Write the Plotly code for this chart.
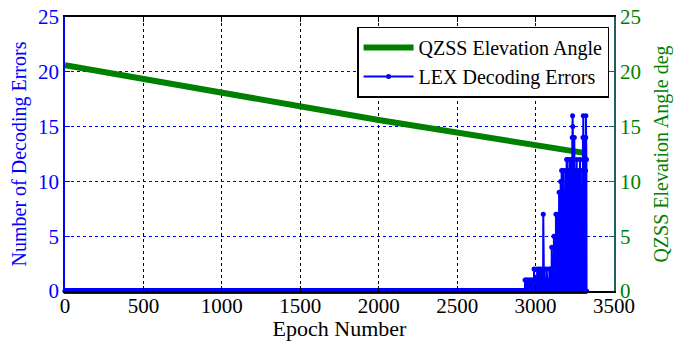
import numpy as np
import plotly.graph_objects as go

# ---- data ----
epoch_max = 3325
err_epochs = [2933, 2940, 2947, 2955, 2964, 2972, 2981, 2990, 3000, 3010, 3022, 3035,
              3049, 3056, 3063, 3071, 3080, 3088, 3095, 3103, 3108, 3117, 3122, 3130,
              3135, 3139, 3145, 3150, 3155, 3160, 3166, 3172, 3178, 3185, 3192, 3198,
              3203, 3208, 3213, 3218, 3224, 3230, 3234, 3235, 3236, 3237, 3238, 3242,
              3247, 3252, 3257, 3262, 3268, 3275, 3283, 3290, 3297, 3302, 3303, 3304,
              3308, 3313, 3318, 3320, 3321, 3322, 3324]
err_values = [1, 1, 1, 1, 1, 1, 1, 2, 1, 2, 2, 2,
              7, 2, 1, 2, 1, 2, 2, 4, 2, 5, 3, 7,
              4, 7, 5, 9, 6, 10, 11, 8, 11, 9, 11, 12,
              12, 10, 11, 12, 9, 12, 14, 12, 16, 15, 14, 12,
              14, 10, 11, 12, 8, 11, 12, 7, 11, 14, 12, 16,
              12, 14, 11, 14, 16, 12, 12]
elev_epochs = [0, 1000, 2000, 3310]
elev_deg = [20.6, 18.1, 15.6, 12.6]
x_ticks = [0, 500, 1000, 1500, 2000, 2500, 3000, 3500]
y_ticks = [0, 5, 10, 15, 20, 25]

epochs = np.arange(0, epoch_max + 1)
errors = np.zeros(len(epochs))
for e, v in zip(err_epochs, err_values):
    errors[e] = v

FONT = "'Liberation Serif', 'Times New Roman', serif"
BLUE = "#0000FF"
GREEN = "#008000"

fig = go.Figure()
fig.add_trace(go.Scatter(
    x=elev_epochs, y=elev_deg, mode="lines", name="QZSS Elevation Angle",
    line=dict(color=GREEN, width=6), yaxis="y"))
fig.add_trace(go.Scatter(
    x=epochs, y=errors, mode="lines+markers", name="LEX Decoding Errors",
    line=dict(color=BLUE, width=2), marker=dict(color=BLUE, size=5),
    yaxis="y2", cliponaxis=False))

fig.update_layout(
    template="none",
    width=681, height=341,
    margin=dict(l=65, r=67, t=17, b=50, autoexpand=False),
    paper_bgcolor="white", plot_bgcolor="white",
    font=dict(family=FONT, size=20, color="black"),
    showlegend=True,
    legend=dict(x=0.532, y=0.965, xanchor="left", yanchor="top",
                bgcolor="white", bordercolor="black", borderwidth=1.5,
                font=dict(family=FONT, size=20), tracegroupgap=0,
                itemwidth=50),
    xaxis=dict(range=[0, 3500], tickvals=x_ticks, ticks="inside", ticklen=5,
               tickcolor="black", showline=True, linecolor="black", linewidth=1.5,
               mirror="ticks", showgrid=True, gridcolor="black", griddash="dot",
               gridwidth=1, zeroline=False, automargin=False,
               ticklabelstandoff=-5,
               tickfont=dict(family=FONT, size=21, color="black"),
               title=dict(text="Epoch Number", standoff=0,
                          font=dict(family=FONT, size=22, color="black"))),
    yaxis=dict(range=[0, 25], tickvals=y_ticks, ticks="inside", ticklen=5,
               tickcolor=BLUE, showline=True, linecolor=BLUE, linewidth=1.5,
               showgrid=True, gridcolor=BLUE, griddash="dot", gridwidth=1,
               zeroline=False, automargin=False,
               tickfont=dict(family=FONT, size=21, color=BLUE),
               title=dict(text="Number of Decoding Errors", standoff=6,
                          font=dict(family=FONT, size=20, color=BLUE))),
    yaxis2=dict(range=[0, 25], tickvals=y_ticks, ticks="inside", ticklen=5,
                tickcolor="#1f5f5f", showline=True, linecolor="#1f5f5f",
                linewidth=1.5, overlaying="y", side="right", showgrid=False,
                zeroline=False, automargin=False,
                tickfont=dict(family=FONT, size=21, color=GREEN),
                title=dict(text="QZSS Elevation Angle deg", standoff=14,
                           font=dict(family=FONT, size=20, color=GREEN))),
)

fig.write_html("out.html")
